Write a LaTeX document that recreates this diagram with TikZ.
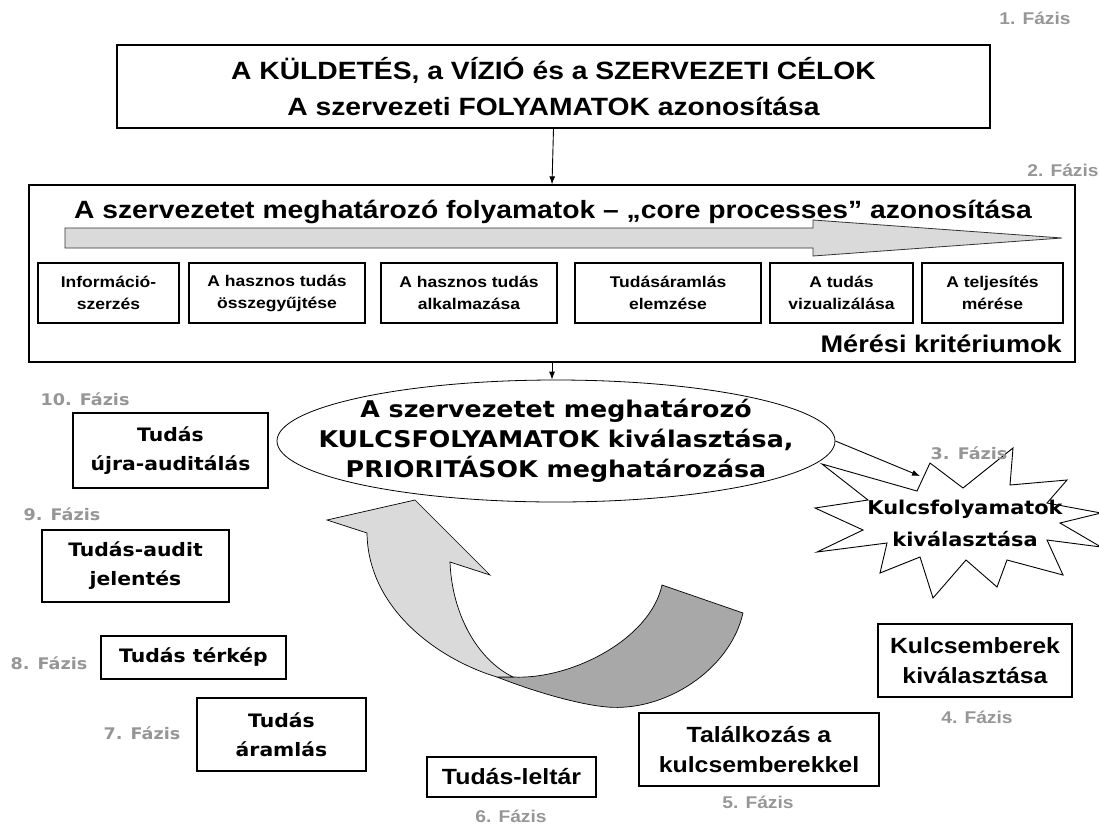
\documentclass[tikz,border=0pt]{standalone}
\usepackage{fontspec}
\newfontfamily\arialf{Liberation Sans}[FakeStretch=1.13]
\newfontfamily\verdf{DejaVu Sans}[FakeStretch=1.1]
\usetikzlibrary{arrows.meta,shapes.geometric}
\definecolor{phasegray}{RGB}{150,150,150}
\definecolor{lightband}{RGB}{218,218,218}
\definecolor{darkband}{RGB}{168,168,168}
\begin{document}
\begin{tikzpicture}[x=1pt,y=-1pt,
  frame/.style={draw=black,line width=1.3pt,fill=white,inner sep=0pt,align=center},
  hd/.style={font=\arialf\bfseries\fontsize{25}{36}\selectfont},
  stepfont/.style={font=\arialf\bfseries\fontsize{15.5}{22}\selectfont},
  stepbox/.style={frame,stepfont,minimum height=60pt},
  phasea/.style={text=phasegray,inner sep=0pt,font=\arialf\bfseries\fontsize{17}{20}\selectfont},
  phasev/.style={text=phasegray,inner sep=0pt,font=\verdf\bfseries\fontsize{16}{20}\selectfont},
  leftbox/.style={frame,font=\verdf\bfseries\fontsize{18.5}{29}\selectfont},
  lowbox/.style={frame,font=\arialf\bfseries\fontsize{22}{30}\selectfont},
  link/.style={draw=black,line width=0.9pt,-{Latex[length=8pt,width=6pt]}},
  band/.style={draw=black,line width=0.7pt}
]
\useasboundingbox (0,0) rectangle (1099,825);

% Phase 1: mission, vision, goals
\node[frame,hd,minimum width=873pt,minimum height=83pt] (mission) at (553.5,86.5)
  {A KÜLDETÉS, a VÍZIÓ és a SZERVEZETI CÉLOK\\A szervezeti FOLYAMATOK azonosítása};
\node[phasea] (f1) at (1035,18) {1. Fázis};

% Phase 2: core processes
\node[frame,minimum width=1046pt,minimum height=177pt] (core) at (552,273.5) {};
\node[phasea] (f2) at (1063,170) {2. Fázis};
\node[hd,anchor=base,inner sep=0pt] (coretitle) at (553,218)
  {A szervezetet meghatározó folyamatok – „core processes” azonosítása};
\draw[fill=lightband,draw=black!80,line width=0.8pt]
  (65,228) -- (813,228) -- (813,220) -- (1062,238) -- (813,256) -- (813,248) -- (65,248) -- cycle;
\node[stepbox,minimum width=141pt] (s1) at (108.5,293) {Információ-\\szerzés};
\node[stepbox,minimum width=176pt] (s2) at (277,293) {A hasznos tudás\\összegyűjtése};
\node[stepbox,minimum width=176pt] (s3) at (469,293) {A hasznos tudás\\alkalmazása};
\node[stepbox,minimum width=186pt] (s4) at (668,293) {Tudásáramlás\\elemzése};
\node[stepbox,minimum width=143pt] (s5) at (841.5,293) {A tudás\\vizualizálása};
\node[stepbox,minimum width=141pt] (s6) at (992.5,293) {A teljesítés\\mérése};
\node[anchor=base east,inner sep=0pt,font=\arialf\bfseries\fontsize{24}{28}\selectfont] (crit) at (1062,352)
  {Mérési kritériumok};

\draw[link] (mission.south) -- (core.north);

% Key process selection
\node[draw=black,line width=0.8pt,ellipse,minimum width=558pt,minimum height=122pt,inner sep=0pt,fill=white] (key) at (556,441) {};
\node[align=center,inner sep=0pt,font=\verdf\bfseries\fontsize{23}{30}\selectfont] (keytext) at (556,441)
  {A szervezetet meghatározó\\KULCSFOLYAMATOK kiválasztása,\\PRIORITÁSOK meghatározása};
\draw[link] (core.south) -- (core.south |- key.north);

% Phase 3 starburst
\draw[line width=0.9pt,fill=white]
  (822,464) -- (917,491) -- (930,463) -- (963,488) -- (1013,448) -- (1010,485)
  -- (1067,480) -- (1047,503) -- (1101,513) -- (1060,523) -- (1101,547) -- (1047,540)
  -- (1063,575) -- (1007,560) -- (997,587) -- (966,560) -- (933,598) -- (920,557)
  -- (880,573) -- (887,543) -- (817,552) -- (863,530) -- (815,508) -- (868,500) -- cycle;
\node[align=center,inner sep=0pt,font=\verdf\bfseries\fontsize{19}{32}\selectfont] (burst) at (965,523)
  {Kulcsfolyamatok\\kiválasztása};
\node[phasev] (f3) at (969,453) {3. Fázis};
\coordinate (burstin) at (920,476);
\draw[link] (key.east) -- (burstin);

% Returning ribbon arrow
\draw[band,fill=darkband]
  (513,677) .. controls (570,680) and (650,640) .. (662,585) -- (743,613)
  .. controls (730,670) and (665,712) .. (607,707)
  .. controls (575,704) and (530,690) .. (497,677) -- cycle;
\draw[band,fill=lightband]
  (367,533) -- (327,520) -- (415,500) -- (490,575) -- (450,562)
  .. controls (452,615) and (478,660) .. (513,677) -- (497,677)
  .. controls (440,660) and (368,610) .. (367,533) -- cycle;

% Phases 4-6
\node[lowbox,minimum width=194pt,minimum height=73pt] (p4) at (975,660.5) {Kulcsemberek\\kiválasztása};
\node[phasea] (f4) at (977,717) {4. Fázis};
\node[lowbox,minimum width=240pt,minimum height=73pt] (p5) at (759,749.5) {Találkozás a\\kulcsemberekkel};
\node[phasea] (f5) at (758,802) {5. Fázis};
\node[lowbox,minimum width=169pt,minimum height=40pt] (p6) at (511.5,777) {Tudás-leltár};
\node[phasea] (f6) at (511,816) {6. Fázis};

% Phases 7-10
\node[leftbox,minimum width=169pt,minimum height=73pt] (p7) at (281.5,734.5) {Tudás\\áramlás};
\node[phasev] (f7) at (142,733) {7. Fázis};
\node[leftbox,minimum width=185pt,minimum height=43pt] (p8) at (193.5,657.5) {Tudás térkép};
\node[phasev] (f8) at (49,663) {8. Fázis};
\node[leftbox,minimum width=187pt,minimum height=72pt] (p9) at (135.5,566) {Tudás-audit\\jelentés};
\node[phasev] (f9) at (62,514) {9. Fázis};
\node[leftbox,minimum width=195pt,minimum height=75pt] (p10) at (170.5,450.5) {Tudás\\újra-auditálás};
\node[phasev] (f10) at (85,399) {10. Fázis};
\end{tikzpicture}
\end{document}
